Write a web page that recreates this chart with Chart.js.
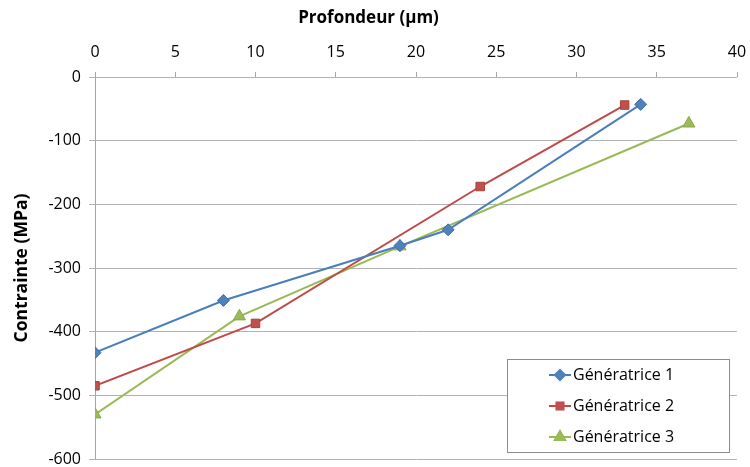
<!DOCTYPE html>
<html>
<head>
<meta charset="utf-8">
<script src="https://cdn.jsdelivr.net/npm/chart.js@4/dist/chart.umd.min.js"></script>
<style>
  html, body { margin: 0; padding: 0; background: #fff; }
  #box { width: 750px; height: 467px; }
</style>
</head>
<body>
<div id="box"><canvas id="graphe"></canvas></div>
<script>
// donnees
const profondeur1 = [0, 8, 19, 22, 34];
const contrainte1 = [-433, -351, -265, -240, -43];
const profondeur2 = [0, 10, 24, 33];
const contrainte2 = [-485, -387, -172, -44];
const profondeur3 = [0, 9, 19, 37];
const contrainte3 = [-530, -376, -266, -73];
const noms = ['Génératrice 1', 'Génératrice 2', 'Génératrice 3'];
const xTicks = [0, 5, 10, 15, 20, 25, 30, 35, 40];
const yTicks = [0, -100, -200, -300, -400, -500, -600];

const police = "'Open Sans', 'Liberation Sans', sans-serif";

const points = (xs, ys) => xs.map((x, i) => ({ x: x, y: ys[i] }));

// legende dessinee dans la zone du graphique
const legendeBoite = {
  id: 'legendeBoite',
  afterDraw(chart) {
    const c = chart.ctx;
    const x0 = 507, y0 = 359, w = 222, h = 93;
    c.save();
    c.fillStyle = '#fff';
    c.fillRect(x0, y0, w, h);
    c.strokeStyle = '#8c8c8c';
    c.lineWidth = 1;
    c.strokeRect(x0 + 0.5, y0 + 0.5, w, h);
    c.font = '16px ' + police;
    c.textBaseline = 'middle';
    chart.data.datasets.forEach((ds, i) => {
      const y = 375 + i * 31;
      c.strokeStyle = ds.borderColor;
      c.lineWidth = 2;
      c.beginPath();
      c.moveTo(549, y);
      c.lineTo(571, y);
      c.stroke();
      Chart.helpers.drawPoint(c, {
        pointStyle: ds.pointStyle,
        radius: ds.pointRadius - 1,
        borderWidth: 1
      }, 560, y);
      c.fillStyle = ds.pointBackgroundColor;
      c.strokeStyle = ds.pointBorderColor;
      c.fill();
      c.fillStyle = '#000';
      c.fillText(ds.label, 573, y);
    });
    c.restore();
  }
};

const ctx = document.getElementById('graphe');
const graphe = new Chart(ctx, {
  type: 'scatter',
  data: {
    datasets: [{
      label: noms[0],
      data: points(profondeur1, contrainte1),
      showLine: true,
      borderColor: '#4A7EBB',
      borderWidth: 2,
      pointStyle: 'rectRot',
      pointRadius: 6,
      pointBackgroundColor: '#4F81BD',
      pointBorderColor: '#3C6DA8',
      pointBorderWidth: 1
    }, {
      label: noms[1],
      data: points(profondeur2, contrainte2),
      showLine: true,
      borderColor: '#BE4B48',
      borderWidth: 2,
      pointStyle: 'rect',
      pointRadius: 6,
      pointBackgroundColor: '#C0504D',
      pointBorderColor: '#A8403D',
      pointBorderWidth: 1
    }, {
      label: noms[2],
      data: points(profondeur3, contrainte3),
      showLine: true,
      borderColor: '#98B954',
      borderWidth: 2,
      pointStyle: 'triangle',
      pointRadius: 7,
      pointBackgroundColor: '#9BBB59',
      pointBorderColor: '#87A84A',
      pointBorderWidth: 1
    }]
  },
  options: {
    responsive: true,
    maintainAspectRatio: false,
    animation: false,
    layout: { padding: { right: 13, bottom: 7 } },
    plugins: {
      legend: { display: false },
      tooltip: { enabled: false },
      title: {
        display: true,
        text: 'Profondeur (µm)',
        color: '#000',
        font: { family: police, size: 17, weight: 'bold' },
        padding: { top: 8, bottom: 0 }
      }
    },
    scales: {
      x: {
        type: 'linear',
        position: 'top',
        min: 0,
        max: 40,
        afterBuildTicks: axis => { axis.ticks = xTicks.map(v => ({ value: v })); },
        afterFit: axis => {
          axis.height = 77 - 28.4;
          axis.paddingLeft = 0;
          axis.paddingRight = 0;
        },
        ticks: {
          color: '#000',
          font: { family: police, size: 16 },
          maxRotation: 0,
          padding: 10
        },
        grid: {
          display: true,
          drawOnChartArea: false,
          drawTicks: true,
          tickLength: 5,
          color: '#a6a6a6'
        },
        border: { display: false }
      },
      y: {
        type: 'linear',
        min: -600,
        max: 0,
        afterBuildTicks: axis => { axis.ticks = yTicks.map(v => ({ value: v })); },
        afterFit: axis => {
          axis.width = 95;
          axis.paddingTop = 0;
          axis.paddingBottom = 0;
        },
        title: {
          display: true,
          text: 'Contrainte (MPa)',
          color: '#000',
          font: { family: police, size: 17.5, weight: 'bold' },
          padding: { top: 12, bottom: 0 }
        },
        ticks: {
          color: '#000',
          font: { family: police, size: 16 },
          padding: 8
        },
        grid: {
          color: '#b3b3b3',
          lineWidth: 1,
          tickLength: 6
        },
        border: { display: true, color: '#a6a6a6' }
      }
    }
  },
  plugins: [legendeBoite]
});
</script>
</body>
</html>
